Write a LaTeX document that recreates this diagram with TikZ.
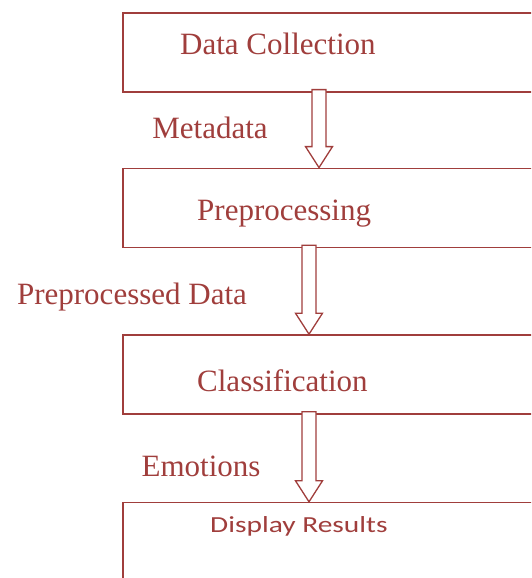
\documentclass[tikz,border=0pt]{standalone}
\usepackage{fontspec}
\setmainfont{Liberation Serif}
\newfontfamily\carlito{Carlito}
\usetikzlibrary{positioning,calc}
\definecolor{maroon}{RGB}{160,62,60}
\tikzstyle{stage} = [rectangle, draw=maroon, line width=1.6pt, minimum width=480pt, minimum height=79pt, fill=white]
\tikzstyle{stagetext} = [text=maroon, inner sep=0pt, font=\fontsize{31}{36}\selectfont]
\tikzstyle{flowlabel} = [text=maroon, inner sep=0pt, font=\fontsize{31}{36}\selectfont]
\tikzstyle{hollow} = [draw=maroon, line width=1.3pt, fill=white, line join=miter]

% hollow block arrow from a point on one box down to the top of the next box
\newcommand{\hollowarrow}[2]{%
  \draw[hollow] ($(#1)+(-7,3)$) -- ($(#1 |- #2.north)+(-7,21)$) -- ++(-6.5,0)
    -- (#1 |- #2.north) -- ++(13.5,21) -- ++(-6.5,0) -- ($(#1)+(7,3)$) -- cycle;}

\begin{document}
\begin{tikzpicture}[x=1pt, y=1pt] % 1 unit = 1pt, origin at the top left
\clip (0,0) rectangle (531,-578);

% The stage boxes (they run on past the right and bottom edges)
\node(collect)   [stage, anchor=north west] at (122,-12) {};
\node(preproc)   [stage, below=75pt of collect]  {};
\node(classify)  [stage, below=86pt of preproc]  {};
\node(display)   [stage, below=87pt of classify] {};

% Box captions
\node(collect_txt)  [stagetext, right=58pt of collect.west,  yshift=8.5pt]  {Data Collection};
\node(preproc_txt)  [stagetext, right=75pt of preproc.west,  yshift=-5.5pt] {Preprocessing};
\node(classify_txt) [stagetext, right=75pt of classify.west, yshift=-6.5pt] {Classification};
\node(display_txt)  [stagetext, right=88pt of display.west,  yshift=15.5pt,
                     font=\carlito\fontsize{23}{28}\selectfont] {\scalebox{1.28}[1]{Display Results}};

% Where the arrows leave each box
\coordinate (out1) at ($(collect.south west)+(197,0)$);
\coordinate (out2) at ($(preproc.south west)+(187,0)$);
\coordinate (out3) at ($(classify.south west)+(187,0)$);

% Connect the boxes
\hollowarrow{out1}{preproc}
\hollowarrow{out2}{classify}
\hollowarrow{out3}{display}

% What flows along each arrow
\node(meta)     [flowlabel] at (210,-128) {Metadata};
\node(prepdata) [flowlabel] at (132,-297) {Preprocessed Data};
\node(emotions) [flowlabel] at (201,-466) {Emotions};

\end{tikzpicture}
\end{document}
